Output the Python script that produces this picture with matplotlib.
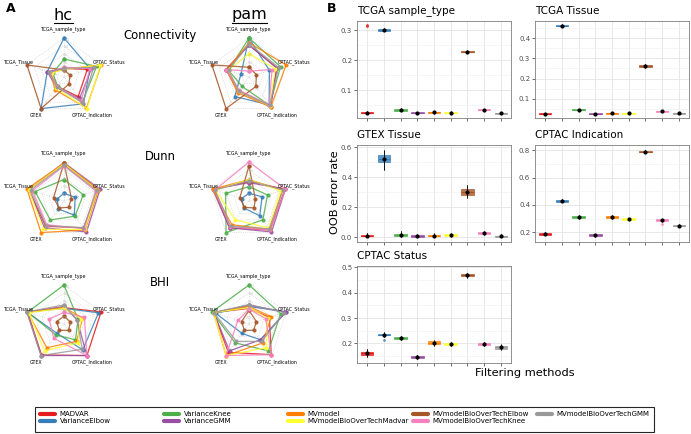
import numpy as np
import matplotlib
matplotlib.use("Agg")
import matplotlib.pyplot as plt
from matplotlib.lines import Line2D
from matplotlib.patches import Rectangle
from matplotlib.ticker import MultipleLocator

# methods and colours (shared by both panels)
methods = ["MADVAR", "VarianceElbow", "VarianceKnee", "VarianceGMM", "MVmodel",
           "MVmodelBioOverTechMadvar", "MVmodelBioOverTechElbow",
           "MVmodelBioOverTechKnee", "MVmodelBioOverTechGMM"]
colors = ["#E41A1C", "#377EB8", "#4DAF4A", "#984EA3", "#FF7F00",
          "#FFFF33", "#A65628", "#F781BF", "#999999"]

# radar axes, clockwise from the top
radar_axes = ["TCGA_sample_type", "CPTAC_Status", "CPTAC_Indication", "GTEX", "TCGA_Tissue"]

# radar values, one row per method (same order as methods)
conn_hc = [[0.22, 0.63, 0.62, 0.30, 0.35],
           [1.00, 0.70, 0.85, 1.00, 0.45],
           [0.46, 0.88, 0.80, 0.28, 0.30],
           [0.22, 0.75, 0.68, 0.33, 0.45],
           [0.20, 1.00, 0.98, 0.40, 0.35],
           [0.20, 0.98, 1.00, 0.35, 0.33],
           [0.18, 0.16, 0.22, 1.00, 1.00],
           [0.25, 0.70, 0.75, 0.30, 0.38],
           [0.22, 0.80, 0.82, 0.32, 0.40]]
conn_pam = [[0.82, 0.75, 0.92, 0.45, 0.62],
            [1.00, 0.55, 0.88, 0.62, 0.22],
            [1.00, 0.85, 0.90, 0.30, 0.55],
            [0.82, 0.75, 0.95, 0.45, 0.62],
            [0.88, 1.00, 0.95, 0.50, 0.60],
            [0.60, 0.70, 0.92, 0.45, 0.55],
            [0.25, 0.20, 0.30, 1.00, 1.00],
            [0.15, 0.62, 0.88, 0.42, 0.62],
            [0.85, 0.80, 0.90, 0.45, 0.55]]
dunn_hc = [[0.95, 0.92, 0.85, 0.80, 0.95],
           [0.20, 0.30, 0.45, 0.25, 0.18],
           [0.55, 0.52, 0.48, 0.60, 0.78],
           [0.98, 0.97, 0.98, 0.85, 0.95],
           [0.97, 0.93, 0.92, 1.00, 1.00],
           [0.95, 0.90, 0.90, 0.90, 0.95],
           [0.98, 0.20, 0.20, 0.22, 0.28],
           [0.90, 0.85, 0.88, 0.75, 0.85],
           [0.92, 0.88, 0.85, 0.78, 0.90]]
dunn_pam = [[0.50, 0.97, 0.92, 0.85, 0.95],
            [0.20, 0.35, 0.47, 0.22, 0.20],
            [0.37, 0.50, 0.60, 1.00, 0.63],
            [0.47, 0.98, 0.98, 0.85, 0.98],
            [0.55, 0.90, 0.90, 0.75, 0.98],
            [0.55, 0.85, 0.85, 0.60, 0.90],
            [0.90, 0.17, 0.22, 0.20, 0.25],
            [1.00, 0.98, 0.92, 0.82, 0.92],
            [0.52, 0.92, 0.88, 0.80, 0.92]]
bhi_hc = [[0.42, 1.00, 1.00, 0.98, 0.98],
          [0.40, 0.93, 0.82, 0.30, 1.00],
          [1.00, 0.38, 0.50, 0.35, 0.98],
          [0.45, 0.35, 1.00, 1.00, 1.00],
          [0.42, 0.50, 0.55, 0.75, 0.98],
          [0.40, 0.45, 0.60, 0.85, 0.95],
          [0.20, 0.17, 0.20, 0.20, 0.20],
          [0.30, 0.55, 1.00, 0.45, 0.40],
          [0.49, 0.35, 0.80, 1.00, 1.00]]
bhi_pam = [[0.40, 0.55, 0.97, 0.90, 0.95],
           [0.45, 1.00, 0.50, 0.30, 0.90],
           [1.00, 0.85, 0.85, 0.60, 1.00],
           [0.48, 1.00, 0.50, 0.85, 0.95],
           [0.45, 0.60, 0.60, 1.00, 0.95],
           [0.42, 0.50, 0.75, 1.00, 0.95],
           [0.35, 0.20, 0.20, 0.20, 0.20],
           [0.38, 0.45, 0.97, 1.00, 0.30],
           [0.50, 0.95, 0.55, 0.55, 0.95]]

# OOB error rate boxes: (whisker low, q1, median, q3, whisker high) per method
tst_box = [(0.021, 0.023, 0.025, 0.027, 0.029), (0.296, 0.299, 0.302, 0.305, 0.309),
           (0.029, 0.032, 0.035, 0.038, 0.042), (0.021, 0.023, 0.024, 0.026, 0.028),
           (0.021, 0.023, 0.026, 0.028, 0.031), (0.021, 0.023, 0.025, 0.027, 0.029),
           (0.224, 0.227, 0.229, 0.232, 0.235), (0.031, 0.033, 0.034, 0.036, 0.038),
           (0.019, 0.021, 0.023, 0.025, 0.027)]
tt_box = [(0.023, 0.025, 0.027, 0.029, 0.031), (0.456, 0.459, 0.462, 0.465, 0.468),
          (0.041, 0.044, 0.046, 0.048, 0.051), (0.022, 0.024, 0.026, 0.028, 0.030),
          (0.024, 0.027, 0.029, 0.031, 0.034), (0.024, 0.026, 0.028, 0.030, 0.032),
          (0.252, 0.257, 0.262, 0.266, 0.272), (0.034, 0.036, 0.038, 0.040, 0.042),
          (0.024, 0.026, 0.028, 0.030, 0.032)]
gtex_box = [(0.0, 0.007, 0.013, 0.019, 0.028), (0.45, 0.50, 0.525, 0.55, 0.585),
            (0.0, 0.008, 0.015, 0.022, 0.040), (0.0, 0.006, 0.012, 0.018, 0.025),
            (0.0, 0.007, 0.013, 0.019, 0.030), (0.0, 0.008, 0.014, 0.020, 0.030),
            (0.26, 0.285, 0.302, 0.325, 0.35), (0.015, 0.022, 0.030, 0.038, 0.045),
            (0.0, 0.003, 0.008, 0.013, 0.020)]
ci_box = [(0.178, 0.183, 0.190, 0.196, 0.202), (0.420, 0.425, 0.432, 0.438, 0.445),
          (0.300, 0.305, 0.312, 0.318, 0.325), (0.170, 0.174, 0.180, 0.186, 0.190),
          (0.300, 0.307, 0.315, 0.322, 0.330), (0.288, 0.292, 0.298, 0.304, 0.308),
          (0.778, 0.783, 0.788, 0.793, 0.798), (0.275, 0.284, 0.290, 0.296, 0.300),
          (0.240, 0.245, 0.250, 0.255, 0.260)]
cs_box = [(0.145, 0.155, 0.162, 0.168, 0.178), (0.225, 0.232, 0.235, 0.238, 0.244),
          (0.214, 0.218, 0.222, 0.226, 0.230), (0.140, 0.144, 0.148, 0.152, 0.156),
          (0.190, 0.196, 0.202, 0.209, 0.215), (0.190, 0.193, 0.197, 0.201, 0.205),
          (0.458, 0.464, 0.468, 0.472, 0.478), (0.190, 0.193, 0.197, 0.202, 0.207),
          (0.175, 0.180, 0.185, 0.190, 0.196)]

W, H = 691, 434
fig = plt.figure(figsize=(W / 100, H / 100), dpi=100)


def px_ax(l, t, w, h, **kw):
    # axes from pixel box (top-left origin)
    return fig.add_axes([l / W, 1 - (t + h) / H, w / W, h / H], **kw)


def ftext(x, y, s, **kw):
    fig.text(x / W, 1 - y / H, s, **kw)


# ---------------- panel A: radars ----------------
ftext(6, 9, "A", fontsize=9, fontweight="bold", va="center")
for cx, name, w in [(63, "hc", 19), (249, "pam", 35)]:
    ftext(cx, 15, name, fontsize=11.5, ha="center", va="center")
    fig.add_artist(Line2D([(cx - w / 2) / W, (cx + w / 2) / W], [1 - 23 / H] * 2,
                          color="black", lw=0.8))
for y, name in [(35, "Connectivity"), (156, "Dunn"), (283, "BHI")]:
    ftext(160, y, name, fontsize=8.4, ha="center", va="center")

R = 39
angles = np.arange(5) * 2 * np.pi / 5
closed = np.append(angles, angles[0])
radars = [(64, 77, conn_hc), (249, 77, conn_pam),
          (64, 201, dunn_hc), (249, 201, dunn_pam),
          (64, 324, bhi_hc), (249, 324, bhi_pam)]

for cx, cy, vals in radars:
    ax = px_ax(cx - R, cy - R, 2 * R, 2 * R, projection="polar")
    ax.set_theta_zero_location("N")
    ax.set_theta_direction(-1)
    ax.set_ylim(0, 1)
    ax.set_xticks([])
    ax.set_yticks([])
    ax.grid(False)
    ax.spines["polar"].set_visible(False)
    ax.patch.set_alpha(0)
    for r in [0.2, 0.4, 0.6, 0.8, 1.0]:
        ax.plot(closed, [r] * 6, ls=":", color="#c8c8c8", lw=0.5)
        ax.text(0.07, r - 0.04, f"{r:.1f}", fontsize=2.2, color="#c0c0c0",
                ha="center", va="center")
    for a in angles:
        ax.plot([a, a], [0, 1], ls=":", color="#c8c8c8", lw=0.5)
    for v, c in zip(vals, colors):
        v = np.append(v, v[0])
        ax.plot(closed, v, color=c, lw=0.9, alpha=0.85, marker="o", ms=2,
                clip_on=False)
    for a, lab in zip(angles, radar_axes):
        ax.text(a, 1.22, lab, fontsize=3.4, ha="center", va="center")

# ---------------- panel B: OOB error rate ----------------
ftext(327, 9, "B", fontsize=9, fontweight="bold", va="center")

panels = [
    ("TCGA sample_type", tst_box, 357, 21, (0.007, 0.331), 0.1, [[0.313, 0.316]] + [[]] * 8),
    ("TCGA Tissue", tt_box, 535, 21, (0.005, 0.485), 0.1, [[]] * 9),
    ("GTEX Tissue", gtex_box, 357, 145, (-0.03, 0.615), 0.2, [[]] * 9),
    ("CPTAC Indication", ci_box, 535, 145, (0.13, 0.837), 0.2,
     [[]] * 7 + [[0.26]] + [[]]),
    ("CPTAC Status", cs_box, 357, 266, (0.123, 0.505), 0.1,
     [[]] + [[0.215]] + [[]] * 7),
]

x = np.arange(1, len(methods) + 1)
for title, boxes, left, top, ylim, step, fl in panels:
    ax = px_ax(left, top, 154, 97)
    stats = []
    for b, f in zip(boxes, fl):
        stats.append(dict(whislo=b[0], q1=b[1], med=b[2], q3=b[3], whishi=b[4], fliers=f))
    bp = ax.bxp(stats, positions=x, widths=0.75, patch_artist=True, showcaps=False,
                flierprops=dict(marker="o", ms=2, markeredgewidth=0))
    for i, c in enumerate(colors):
        bp["boxes"][i].set(facecolor=c, edgecolor=c, alpha=0.8, lw=0.6)
        bp["medians"][i].set(color=c, lw=0.8)
        bp["whiskers"][2 * i].set(color=c, lw=0.6)
        bp["whiskers"][2 * i + 1].set(color=c, lw=0.6)
        bp["fliers"][i].set(markerfacecolor=c, alpha=0.8)
    med = np.array([b[2] for b in boxes])
    lo = np.array([b[0] for b in boxes])
    hi = np.array([b[4] for b in boxes])
    ax.errorbar(x, med, yerr=[med - lo, hi - med], fmt="o", color="black", ms=2,
                lw=0.6, capsize=0, zorder=5)
    ax.set_xlim(0.4, 9.6)
    ax.set_ylim(*ylim)
    ax.yaxis.set_major_locator(MultipleLocator(step))
    ax.yaxis.set_minor_locator(MultipleLocator(step / 2))
    ax.set_xticks(x)
    ax.set_xticklabels([])
    ax.grid(True, which="major", color="#e4e4e4", lw=0.6)
    ax.grid(True, which="minor", axis="y", color="#f0f0f0", lw=0.4)
    ax.set_axisbelow(True)
    ax.tick_params(which="major", labelsize=5, colors="#333333", labelcolor="#4D4D4D",
                   length=2, width=0.5, pad=1.5)
    ax.tick_params(which="minor", length=0)
    for s in ax.spines.values():
        s.set_color("#7F7F7F")
        s.set_linewidth(0.6)
    ax.text(0, 1 + 10 / 97, title, transform=ax.transAxes, fontsize=7.5,
            ha="left", va="center")

ftext(335, 192, "OOB error rate", fontsize=8.2, rotation=90, ha="center", va="center")
ftext(525, 373, "Filtering methods", fontsize=8.2, ha="center", va="center")

# ---------------- legend: one frame, five equally spaced columns ----------------
fig.add_artist(Rectangle((35 / W, 1 - 432 / H), 619 / W, 25 / H, transform=fig.transFigure,
                         facecolor="white", edgecolor="0.15", lw=0.8))
handles = [Line2D([0], [0], color=c, lw=3, solid_capstyle="round") for c in colors]
for j, xc in enumerate([40, 164, 288, 413, 537]):
    fig.legend(handles[2 * j:2 * j + 2], methods[2 * j:2 * j + 2], loc="upper left",
               bbox_to_anchor=(xc / W, 1 - 411 / H), frameon=False, fontsize=5,
               handlelength=2.2, handletextpad=0.6, labelspacing=0.15,
               borderpad=0, borderaxespad=0)

fig.savefig("out.png", dpi=100)
